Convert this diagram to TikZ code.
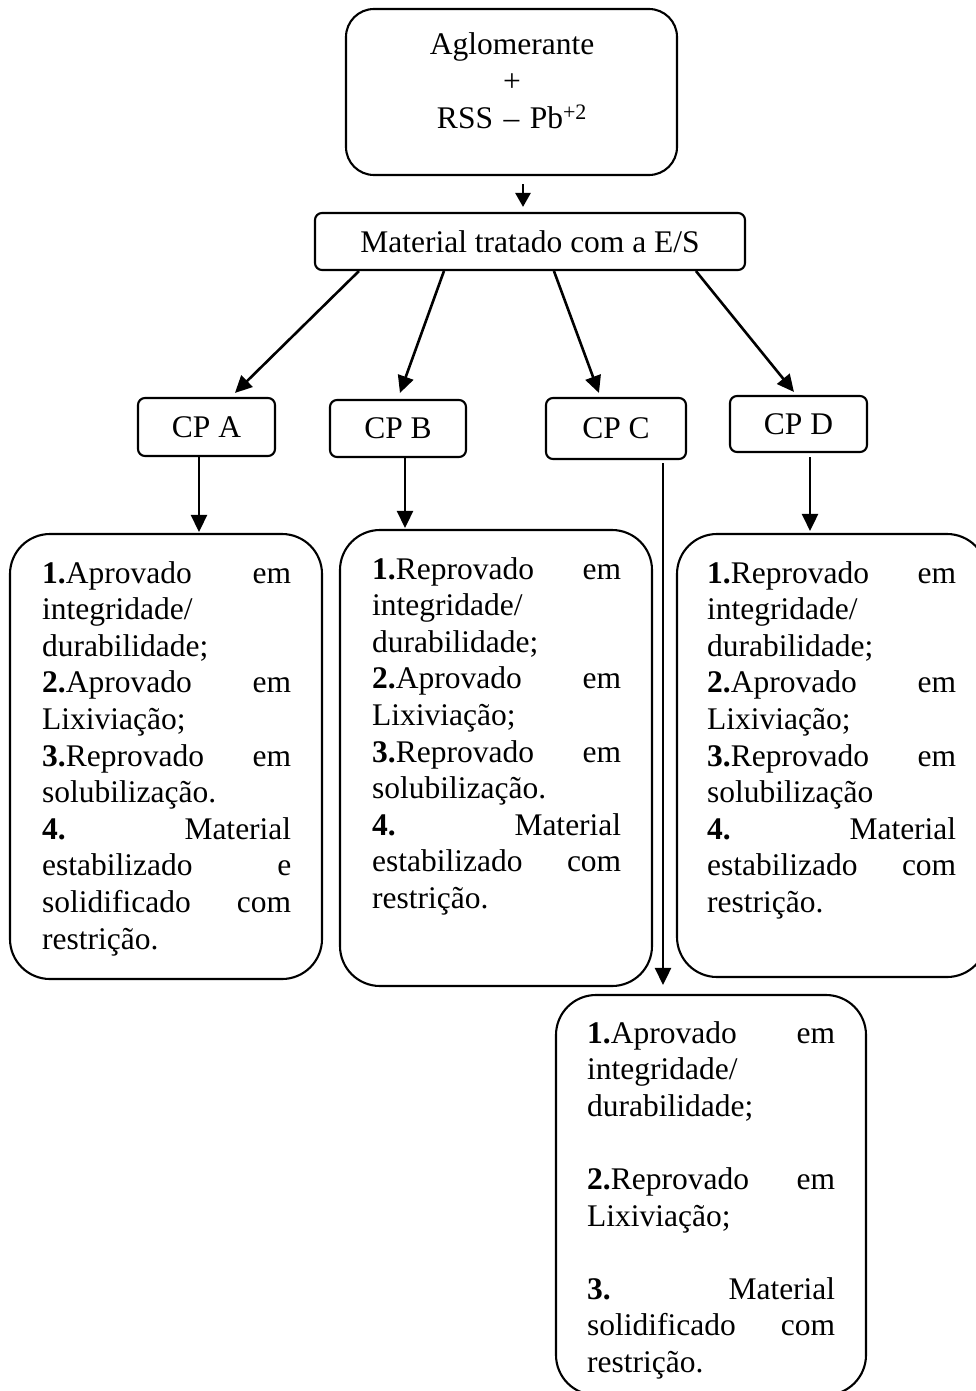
\documentclass[tikz,border=0pt]{standalone}
\usepackage{fontspec}
\setmainfont{Liberation Serif}
\usetikzlibrary{arrows.meta}
\begin{document}
\begin{tikzpicture}[x=1pt,y=-1pt,
  every node/.style={font=\fontsize{31.5}{36.6}\selectfont},
  rbox/.style={draw, line width=2.1pt, rounded corners=#1, inner sep=0pt},
  rbox/.default=7pt,
  txt/.style={inner sep=0pt, text width=249pt, align=left, anchor=base west},
  arr/.style={line width=2.6pt, -{Triangle[length=17pt,width=16pt]}},
  sarr/.style={line width=2.6pt, -{Triangle[length=14pt,width=15pt]}}
]
\useasboundingbox (0,0) rectangle (976,1391);
\begin{scope}
\clip (0,0) rectangle (976,1391);

% top box
\node[rbox=28pt, minimum width=331pt, minimum height=166pt] (top) at (511.5,92) {};
\node[inner sep=0pt, text width=320pt, align=center, anchor=base] (toptxt) at (512,55)
  {Aglomerante\\+\\RSS -- Pb\textsuperscript{+2}};

% material box
\node[rbox, minimum width=430pt, minimum height=57pt] (mat) at (530,241.5) {Material tratado com a E/S};

% CP boxes
\node[rbox, minimum width=137pt, minimum height=58pt] (cpA) at (206.5,427) {CP A};
\node[rbox, minimum width=136pt, minimum height=57pt] (cpB) at (398,428.5) {CP B};
\node[rbox, minimum width=140pt, minimum height=61pt] (cpC) at (616,428.5) {CP C};
\node[rbox, minimum width=137pt, minimum height=56pt] (cpD) at (798.5,424) {CP D};

% big boxes
\node[rbox=40pt, minimum width=312pt, minimum height=445pt] (bA) at (166,756.5) {};
\node[rbox=40pt, minimum width=312pt, minimum height=456pt] (bB) at (496,758) {};
\node[rbox=40pt, minimum width=310pt, minimum height=443pt] (bD) at (832,755.5) {};
\node[rbox=40pt, minimum width=310pt, minimum height=400pt] (bC) at (711,1195) {};

% texts
\node[txt] (tA) at (42,583) {%
\textbf{1.}Aprovado\hfill em\\
integridade/\\
durabilidade;\\
\textbf{2.}Aprovado\hfill em\\
Lixiviação;\\
\textbf{3.}Reprovado\hfill em\\
solubilização.\\
\textbf{4.}\hfill Material\\
estabilizado\hfill e\\
solidificado\hfill com\\
restrição.};

\node[txt] (tB) at (372,579) {%
\textbf{1.}Reprovado\hfill em\\
integridade/\\
durabilidade;\\
\textbf{2.}Aprovado\hfill em\\
Lixiviação;\\
\textbf{3.}Reprovado\hfill em\\
solubilização.\\
\textbf{4.}\hfill Material\\
estabilizado\hfill com\\
restrição.};

\node[txt] (tD) at (707,583) {%
\textbf{1.}Reprovado\hfill em\\
integridade/\\
durabilidade;\\
\textbf{2.}Aprovado\hfill em\\
Lixiviação;\\
\textbf{3.}Reprovado\hfill em\\
solubilização\\
\textbf{4.}\hfill Material\\
estabilizado\hfill com\\
restrição.};

\node[txt, text width=248pt] (tC) at (587,1043) {%
\textbf{1.}Aprovado\hfill em\\
integridade/\\
durabilidade;\\[36.6pt]
\textbf{2.}Reprovado\hfill em\\
Lixiviação;\\[36.6pt]
\textbf{3.}\hfill Material\\
solidificado\hfill com\\
restrição.};

% connectors
\draw[sarr] ([shift={(11.5,8)}]top.south) -- ([shift={(-7,-5)}]mat.north);

\draw[arr] ([shift={(45,0)}]mat.south west) -- ([shift={(98,-4)}]cpA.north west);
\draw[arr] ([shift={(130,0)}]mat.south west) -- ([shift={(71,-6)}]cpB.north west);
\draw[arr] ([shift={(240,0)}]mat.south west) -- ([shift={(54,-4)}]cpC.north west);
\draw[arr] ([shift={(382,0)}]mat.south west) -- ([shift={(65,-3)}]cpD.north west);

\draw[arr] ([shift={(-7.5,0)}]cpA.south) -- ([shift={(33,-1)}]bA.north);
\draw[arr] ([shift={(7,0)}]cpB.south) -- ([shift={(-91,-1)}]bB.north);
\draw[arr] ([shift={(11.5,4)}]cpD.south) -- ([shift={(-22,-2)}]bD.north);
\draw[arr] ([shift={(47,3)}]cpC.south) -- ([shift={(-48,-9)}]bC.north);
\end{scope}
\end{tikzpicture}
\end{document}
